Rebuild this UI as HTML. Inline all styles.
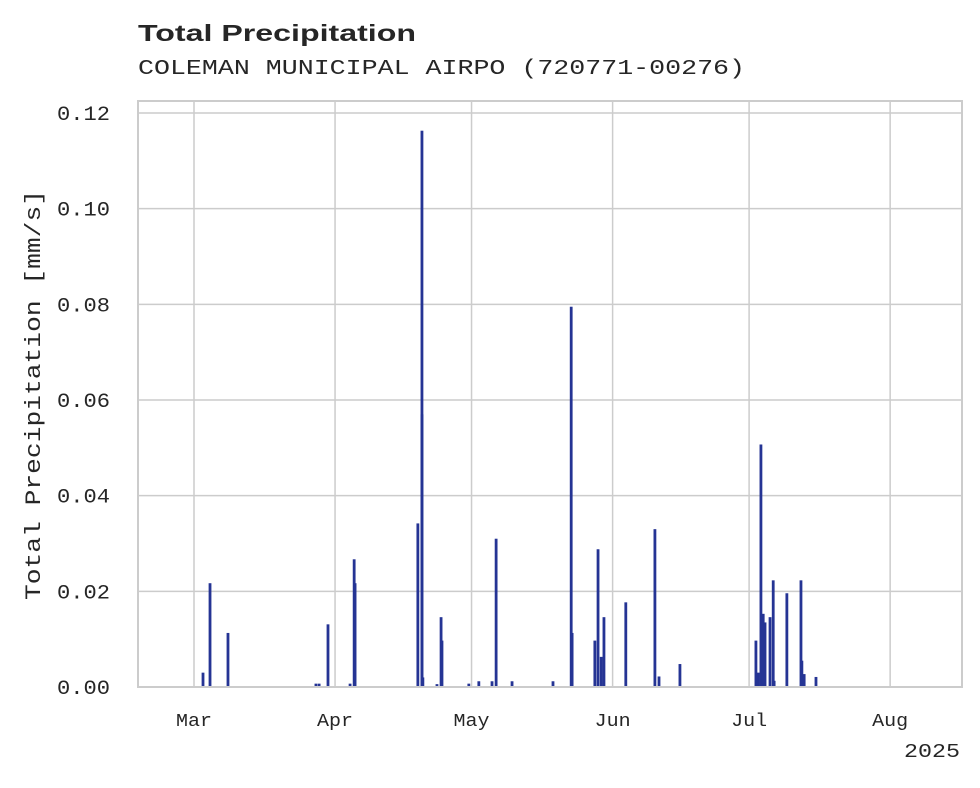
<!DOCTYPE html>
<html><head><meta charset="utf-8">
<style>
body{margin:0;background:#fff;}
svg text{fill:#262626;}
</style></head>
<body>
<svg width="980" height="783" xmlns="http://www.w3.org/2000/svg">
<text x="138" y="41" font-family="Liberation Sans, sans-serif" font-weight="bold" font-size="23" textLength="278" lengthAdjust="spacingAndGlyphs">Total Precipitation</text>
<text x="138" y="74" font-family="Liberation Mono, monospace" font-size="21" textLength="607" lengthAdjust="spacingAndGlyphs">COLEMAN MUNICIPAL AIRPO (720771-00276)</text>
<g id="grid"></g>
<g id="bars"></g>
<rect x="138" y="101" width="824" height="586" fill="none" stroke="#cccccc" stroke-width="2"/>
<g id="yticks"></g>
<g id="xticks"></g>
<text transform="translate(40,395) rotate(-90)" text-anchor="middle" font-family="Liberation Mono, monospace" font-size="22" textLength="410" lengthAdjust="spacingAndGlyphs">Total Precipitation [mm/s]</text>
<text x="960" y="757" text-anchor="end" font-family="Liberation Mono, monospace" font-size="19" textLength="56" lengthAdjust="spacingAndGlyphs">2025</text>
</svg>
<script>
const days=[1.98,3.52,7.47,26.8,27.5,29.45,34.3,35.2,35.4,49.2,50.1,50.1,50.3,53.4,54.3,54.5,60.4,62.6,65.5,66.4,69.9,78.9,82.9,83.1,88.1,88.8,89.5,90.1,94.9,101.3,102.2,106.8,123.5,124,124.6,125.1,125.5,126.6,127.3,127.5,130.3,133.4,133.6,134.1,136.7];
const values=[0.003,0.0217,0.0113,0.0007,0.0007,0.0131,0.0007,0.0267,0.0217,0.0342,0.1163,0.057,0.002,0.0006,0.0146,0.0097,0.0007,0.0012,0.0012,0.031,0.0012,0.0012,0.0795,0.0113,0.0097,0.0288,0.0063,0.0146,0.0177,0.033,0.0022,0.0048,0.0097,0.003,0.0507,0.0153,0.0135,0.0146,0.0223,0.0013,0.0196,0.0223,0.0055,0.0027,0.0021];
const yTicks=[0,0.02,0.04,0.06,0.08,0.10,0.12];
const yTickLabels=["0.00","0.02","0.04","0.06","0.08","0.10","0.12"];
const xTickDays=[0,31,61,92,122,153];
const xTickLabels=["Mar","Apr","May","Jun","Jul","Aug"];
const NS="http://www.w3.org/2000/svg";
const X=d=>194+d*4.55;
const Y=v=>687-v*(574/0.12);
function mk(tag,attrs,parent){const e=document.createElementNS(NS,tag);for(const k in attrs)e.setAttribute(k,attrs[k]);document.getElementById(parent).appendChild(e);return e;}
yTicks.forEach((v,i)=>{
  if(v>0){const l=mk('line',{x1:138,x2:962,y1:Y(v),y2:Y(v),stroke:'#cccccc','stroke-width':1.5},'grid');
  
  }
  const t=mk('text',{x:57,y:Y(v)+7,'font-family':'Liberation Mono, monospace','font-size':20,textLength:53,lengthAdjust:'spacingAndGlyphs'},'yticks');
  t.textContent=yTickLabels[i];
  
  
});
xTickDays.forEach((d,i)=>{
  const l=mk('line',{x1:X(d),x2:X(d),y1:101,y2:687,stroke:'#cccccc','stroke-width':1.5},'grid');
  
  
  const t=mk('text',{x:X(d)-18,y:726,'font-family':'Liberation Mono, monospace','font-size':18,textLength:36,lengthAdjust:'spacingAndGlyphs'},'xticks');
  t.textContent=xTickLabels[i];
  
  
});
days.forEach((d,i)=>{
  const r=mk('rect',{x:X(d)-1.4,y:Y(values[i]),width:2.8,height:687-Y(values[i]),fill:'#253494'},'bars');
  
  
});
</script>
</body></html>
